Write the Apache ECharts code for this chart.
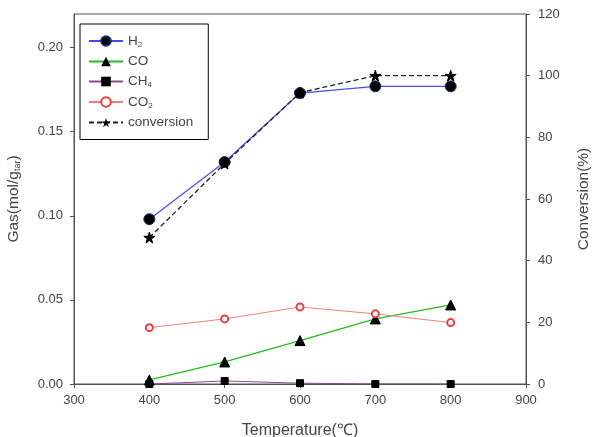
<!DOCTYPE html>
<html>
<head>
<meta charset="utf-8">
<script src="https://cdn.jsdelivr.net/npm/echarts@6/dist/echarts.min.js"></script>
<style>
  html, body { margin: 0; padding: 0; background: #fff; }
  #main { width: 595px; height: 437px; }
</style>
</head>
<body>
<div id="main"></div>
<script>
const temps = [400, 500, 600, 700, 800];
const h2 = [0.098, 0.132, 0.173, 0.177, 0.177];
const co = [0.0024, 0.0131, 0.0258, 0.0387, 0.047];
const ch4 = [0.0, 0.0018, 0.0005, 0.0, 0.0];
const co2 = [0.0335, 0.0387, 0.0458, 0.0417, 0.0365];
const conversion = [47.5, 71.5, 94.5, 100, 100];

const dom = document.getElementById('main');
const myChart = echarts.init(dom);

const pairs = (vals) => temps.map((t, i) => [t, vals[i]]);
const font = 'Arial, "Liberation Sans", sans-serif';
const axisGrey = '#555';
const labelColor = '#444';

const legendNames = { H2: 'H{sub|2}', CO: 'CO', CH4: 'CH{sub|4}', CO2: 'CO{sub|2}', conversion: 'conversion' };

const option = {
  animation: false,
  backgroundColor: '#fff',
  textStyle: { fontFamily: font },
  grid: {
    left: 74, right: 69, top: 14, bottom: 53,
    outerBoundsMode: 'none', containLabel: false,
    show: true, borderColor: axisGrey, borderWidth: 1
  },
  legend: {
    orient: 'vertical',
    left: 80, top: 24,
    padding: [10, 15, 10, 8],
    itemGap: 6,
    itemWidth: 34, itemHeight: 12,
    borderColor: '#000', borderWidth: 1,
    textStyle: {
      fontSize: 13.5, color: labelColor, fontFamily: font,
      rich: { sub: { fontSize: 8, fontFamily: font, color: labelColor, verticalAlign: 'bottom', padding: [7, 0, 0, 0] } }
    },
    formatter: (name) => legendNames[name],
    data: ['H2', 'CO', 'CH4', 'CO2', 'conversion']
  },
  xAxis: {
    type: 'value', min: 300, max: 900, interval: 100,
    name: 'Temperature(℃)', nameLocation: 'middle', nameGap: 39,
    nameTextStyle: { fontSize: 16, color: labelColor },
    axisLine: { onZero: false, lineStyle: { color: axisGrey } },
    axisTick: { inside: false, length: 4, lineStyle: { color: axisGrey } },
    axisLabel: { fontSize: 13, color: labelColor, margin: 10 },
    splitLine: { show: false }
  },
  yAxis: [
    {
      type: 'value', min: 0, max: 0.22, interval: 0.05,
      name: 'Gas(mol/g{sub|tar})', nameLocation: 'middle', nameGap: 52, nameRotate: 90,
      nameTextStyle: { fontSize: 15.5, color: labelColor, rich: { sub: { fontSize: 9, color: labelColor, verticalAlign: 'bottom', padding: [8, 0, 0, 0] } } },
      axisLine: { show: true, lineStyle: { color: axisGrey } },
      axisTick: { show: true, length: 4, lineStyle: { color: axisGrey } },
      axisLabel: { fontSize: 13, color: labelColor, margin: 11, formatter: (v) => v.toFixed(2), showMaxLabel: false },
      splitLine: { show: false }
    },
    {
      type: 'value', min: 0, max: 120, interval: 20,
      name: 'Conversion(%)', nameLocation: 'middle', nameGap: 50, nameRotate: 90,
      nameTextStyle: { fontSize: 15.5, color: labelColor },
      axisLine: { show: true, lineStyle: { color: axisGrey } },
      axisTick: { show: true, length: 4, lineStyle: { color: axisGrey } },
      axisLabel: { fontSize: 13, color: labelColor, margin: 12 },
      splitLine: { show: false }
    }
  ],
  series: [
    {
      name: 'H2', type: 'line', data: pairs(h2),
      symbol: 'circle', symbolSize: 11,
      lineStyle: { color: '#4a4aee', width: 1.2 },
      itemStyle: { color: '#000', borderColor: '#1a2a6a', borderWidth: 1 }
    },
    {
      name: 'CO', type: 'line', data: pairs(co),
      symbol: 'triangle', symbolSize: 10,
      lineStyle: { color: '#22bb22', width: 1.3 },
      itemStyle: { color: '#000', borderColor: '#000' }
    },
    {
      name: 'CH4', type: 'line', data: pairs(ch4),
      symbol: 'rect', symbolSize: 7,
      lineStyle: { color: '#8a4a8a', width: 1 },
      itemStyle: { color: '#000', borderColor: '#000' }
    },
    {
      name: 'CO2', type: 'line', data: pairs(co2),
      symbol: 'emptyCircle', symbolSize: 7,
      lineStyle: { color: '#f08080', width: 1 },
      itemStyle: { color: '#e84040', borderWidth: 1 }
    },
    {
      name: 'conversion', type: 'line', yAxisIndex: 1, data: pairs(conversion),
      symbol: 'path://M50,0 L61,35 L98,35 L68,57 L79,91 L50,70 L21,91 L32,57 L2,35 L39,35 Z',
      symbolSize: 11,
      lineStyle: { color: '#222', width: 1.3, type: [5, 3] },
      itemStyle: { color: '#000', borderColor: '#000' }
    }
  ]
};

myChart.setOption(option);
window.addEventListener('resize', myChart.resize);
</script>
</body>
</html>
